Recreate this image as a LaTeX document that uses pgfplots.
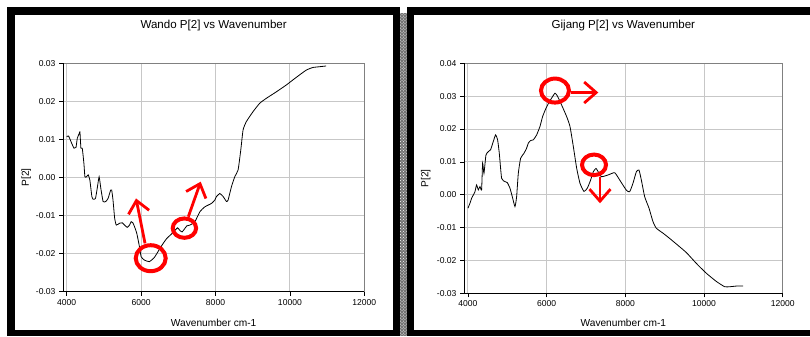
\documentclass[border=0pt]{standalone}
\usepackage{pgfplots}
\pgfplotsset{compat=1.18}
\usepackage{fontspec}
\setmainfont{Liberation Sans}
\usetikzlibrary{arrows.meta,patterns}

\pgfplotstableread{
x y
4000 0.0107
4050 0.0109
4133 0.0090
4196 0.0077
4249 0.0079
4284 0.0103
4338 0.0116
4355 0.0120
4382 0.0077
4418 0.0077
4462 0.0037
4489 0.0002
4533 0.0002
4578 0.0007
4622 -0.0007
4676 -0.0050
4711 -0.0057
4773 -0.0055
4827 -0.0024
4871 0.0002
4916 -0.0028
4978 -0.0063
5049 -0.0063
5111 -0.0055
5182 -0.0033
5209 -0.0033
5244 -0.0059
5289 -0.0107
5333 -0.0125
5422 -0.0120
5493 -0.0119
5556 -0.0125
5627 -0.0131
5689 -0.0125
5733 -0.0116
5778 -0.0119
5822 -0.0129
5884 -0.0147
5956 -0.0182
6000 -0.0208
6089 -0.0217
6222 -0.0221
6356 -0.0210
6471 -0.0192
6580 -0.0175
6690 -0.0160
6800 -0.0150
6900 -0.0140
6980 -0.0132
7050 -0.0140
7100 -0.0143
7160 -0.0136
7230 -0.0127
7313 -0.0125
7446 -0.0116
7580 -0.0090
7714 -0.0077
7893 -0.0068
7982 -0.0059
8027 -0.0050
8116 -0.0042
8205 -0.0050
8295 -0.0063
8339 -0.0059
8429 -0.0024
8518 0.0002
8607 0.0020
8679 0.0072
8741 0.0125
8830 0.0147
9009 0.0173
9188 0.0195
9366 0.0208
9634 0.0225
9902 0.0243
10170 0.0263
10438 0.0282
10616 0.0289
10795 0.0291
10973 0.0293
}\wando

\pgfplotstableread{
x y
4000 -0.0041
4051 -0.0026
4093 -0.0011
4136 -0.0001
4178 0.0009
4220 0.0030
4263 0.0015
4305 0.0025
4347 0.0015
4373 0.0096
4407 0.0065
4458 0.0121
4517 0.0131
4576 0.0137
4644 0.0162
4703 0.0182
4754 0.0167
4797 0.0126
4856 0.0050
4941 0.0040
5000 0.0037
5068 0.0020
5127 -0.0006
5195 -0.0036
5237 -0.0006
5280 0.0065
5339 0.0111
5424 0.0126
5492 0.0142
5534 0.0157
5593 0.0165
5661 0.0167
5746 0.0182
5831 0.0208
5898 0.0238
5983 0.0263
6068 0.0283
6153 0.0299
6212 0.0309
6271 0.0301
6381 0.0273
6508 0.0238
6593 0.0208
6678 0.0147
6763 0.0081
6847 0.0035
6949 0.0010
7034 0.0020
7119 0.0045
7186 0.0070
7254 0.0080
7300 0.0072
7390 0.0055
7559 0.0060
7729 0.0067
7856 0.0045
8025 0.0014
8110 0.0009
8195 0.0035
8280 0.0070
8347 0.0075
8407 0.0045
8492 -0.0006
8602 -0.0041
8703 -0.0082
8788 -0.0102
8958 -0.0117
9127 -0.0133
9297 -0.0150
9551 -0.0176
9805 -0.0209
10059 -0.0239
10314 -0.0264
10525 -0.0280
10653 -0.0280
10822 -0.0278
10992 -0.0278
}\gijang

\tikzset{
  ann/.style={draw=red, line width=4bp},
  annarr/.style={draw=red, line width=2.8bp, -{Straight Barb[length=12bp,width=21bp]}},
}

\pgfplotsset{
  excel/.style={
    scale only axis,
    clip=false,
    xmin=3900, xmax=12000,
    xtick={4000,6000,8000,10000,12000},
    scaled x ticks=false,
    scaled y ticks=false,
    grid=major,
    major grid style={draw=black!22, line width=1bp},
    axis line style={draw=black!50, line width=0.8bp},
    tick align=outside,
    tick pos=left,
    major tick length=4bp,
    tick style={black, line width=0.7bp},
    /pgf/number format/assume math mode=true,
    x tick label style={font=\fontsize{8.6}{9}\selectfont, /pgf/number format/1000 sep={}},
    y tick label style={font=\fontsize{8.6}{9}\selectfont, /pgf/number format/fixed, /pgf/number format/fixed zerofill, /pgf/number format/precision=2},
    title style={font=\fontsize{11.6}{12}\selectfont, at={(axis description cs:0.5,1)}, anchor=base, yshift=29bp},
    xlabel style={font=\fontsize{10.2}{11}\selectfont, at={(axis description cs:0.5,0)}, anchor=base, yshift=-35bp},
    ylabel style={font=\fontsize{10.2}{11}\selectfont, at={(axis description cs:-0.113,0.5)}, anchor=base},
    xlabel={Wavenumber cm-1},
    ylabel={P[2]},
  },
}

\begin{document}
\begin{tikzpicture}[x=1bp,y=1bp]
\useasboundingbox (0,0) rectangle (810,336);
\begin{scope}
\clip (0,0) rectangle (810,336);
\fill[black] (7.3,0) rectangle (400,328.7);
\fill[white] (15,6) rectangle (392.7,321);
\fill[black!55] (400,0) rectangle (406.7,323);
\fill[pattern=crosshatch dots, pattern color=white] (400,0) rectangle (406.7,323);
\fill[black] (406.7,0) rectangle (830,328.7);
\fill[white] (414.3,6) rectangle (830,321);
\end{scope}

\begin{axis}[excel,
  at={(63bp,44.3bp)}, anchor=south west,
  width=301.3bp, height=228.4bp,
  ymin=-0.03, ymax=0.03,
  ytick={-0.03,-0.02,-0.01,0,0.01,0.02,0.03},
  title={Wando P[2] vs Wavenumber},
]
\addplot[black, line width=0.8bp, smooth, tension=0.3] table[x=x,y=y] {\wando};
\draw[black, line width=0.8bp] (rel axis cs:0,1) -- (rel axis cs:0,0) -- (rel axis cs:1,0);
\draw[ann] (axis cs:6258,-0.0212) ellipse [x radius=15bp, y radius=13bp];
\draw[annarr] (axis cs:6105,-0.0173) -- (axis cs:5863,-0.0055);
\draw[ann] (axis cs:7164,-0.0133) ellipse [x radius=11.7bp, y radius=9.7bp];
\draw[annarr] (axis cs:7269,-0.0103) -- (axis cs:7602,-0.0011);
\end{axis}

\begin{axis}[excel,
  at={(464bp,42.7bp)}, anchor=south west,
  width=318.7bp, height=230bp,
  ymin=-0.03, ymax=0.04,
  ytick={-0.03,-0.02,-0.01,0,0.01,0.02,0.03,0.04},
  title={Gijang P[2] vs Wavenumber},
  ylabel style={at={(axis description cs:-0.112,0.5)}},
  xlabel style={yshift=1.5bp},
]
\addplot[black, line width=0.8bp, smooth, tension=0.3] table[x=x,y=y] {\gijang};
\draw[black, line width=0.8bp] (rel axis cs:0,1) -- (rel axis cs:0,0) -- (rel axis cs:1,0);
\draw[ann] (axis cs:6212,0.0317) ellipse [x radius=14bp, y radius=12bp];
\draw[annarr] (axis cs:6611,0.0311) -- (axis cs:7313,0.0311);
\draw[ann] (axis cs:7204,0.0091) ellipse [x radius=12bp, y radius=10.3bp];
\draw[annarr] (axis cs:7356,0.0055) -- (axis cs:7356,-0.0026);
\end{axis}
\end{tikzpicture}
\end{document}
